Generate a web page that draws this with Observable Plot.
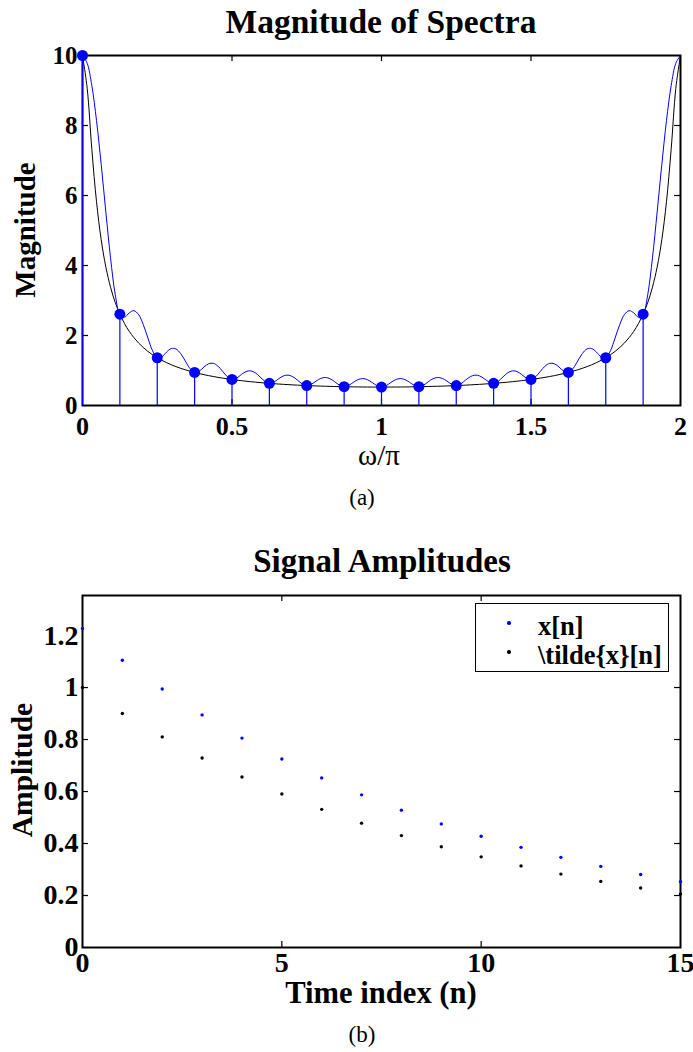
<!DOCTYPE html>
<html><head><meta charset="utf-8">
<script src="https://cdn.jsdelivr.net/npm/d3@7"></script>
<script src="https://cdn.jsdelivr.net/npm/@observablehq/plot@0.6"></script>
<style>
html,body{margin:0;padding:0;background:#fff;}
#root{position:relative;width:693px;height:1052px;font-family:"Liberation Serif","Times New Roman",serif;color:#000;overflow:hidden;}
.t{position:absolute;white-space:nowrap;line-height:1;}
.c{transform:translateX(-50%);}
.b{font-weight:bold;}
.rot{transform:translate(-50%,-50%) rotate(-90deg);}
#root svg{position:absolute;left:0;overflow:visible;}
#root svg text{font-family:"Liberation Serif","Times New Roman",serif;}
.lg{position:absolute;left:475px;top:603px;width:194px;height:69px;border:1.5px solid #000;background:#fff;box-sizing:border-box;}
.ld{position:absolute;width:3.4px;height:3.4px;border-radius:50%;}
</style></head><body><div id="root"></div>
<script>
// ---------- data: panel (a) ----------
const omegaGrid = d3.range(129).map(i => i / 64); // ω/π sample positions
const magBlack = [10, 9.0652, 7.3192, 5.8241, 4.7358, 3.9546, 3.3805, 2.9460, 2.6081,
  2.3388, 2.1198, 1.9386, 1.7864, 1.6570, 1.5457, 1.4490, 1.3644,
  1.2897, 1.2234, 1.1643, 1.1111, 1.0632, 1.0198, 0.9804, 0.9444,
  0.9115, 0.8813, 0.8535, 0.8279, 0.8043, 0.7824, 0.7621, 0.7433,
  0.7258, 0.7095, 0.6944, 0.6802, 0.6671, 0.6548, 0.6433, 0.6326,
  0.6226, 0.6133, 0.6046, 0.5966, 0.5890, 0.5820, 0.5756, 0.5695,
  0.5640, 0.5589, 0.5542, 0.5499, 0.5460, 0.5425, 0.5394, 0.5366,
  0.5342, 0.5321, 0.5303, 0.5289, 0.5277, 0.5270, 0.5265, 0.5263,
  0.5265, 0.5270, 0.5277, 0.5289, 0.5303, 0.5321, 0.5342, 0.5366,
  0.5394, 0.5425, 0.5460, 0.5499, 0.5542, 0.5589, 0.5640, 0.5695,
  0.5756, 0.5820, 0.5890, 0.5966, 0.6046, 0.6133, 0.6226, 0.6326,
  0.6433, 0.6548, 0.6671, 0.6802, 0.6944, 0.7095, 0.7258, 0.7433,
  0.7621, 0.7824, 0.8043, 0.8279, 0.8535, 0.8813, 0.9115, 0.9444,
  0.9804, 1.0198, 1.0632, 1.1111, 1.1643, 1.2234, 1.2897, 1.3644,
  1.4490, 1.5457, 1.6570, 1.7864, 1.9386, 2.1198, 2.3388, 2.6081,
  2.9460, 3.3805, 3.9546, 4.7358, 5.8241, 7.3192, 9.0652, 10];
const magBlue = [10, 9.7784, 9.1369, 8.1396, 6.8901, 5.5268, 4.2200, 3.1778, 2.6081,
  2.5228, 2.6463, 2.7093, 2.5990, 2.3158, 1.9296, 1.5630, 1.3644,
  1.3912, 1.5272, 1.6272, 1.6166, 1.4859, 1.2731, 1.0575, 0.9444,
  0.9832, 1.1002, 1.1929, 1.2046, 1.1241, 0.9767, 0.8221, 0.7433,
  0.7829, 0.8857, 0.9704, 0.9897, 0.9323, 0.8174, 0.6939, 0.6326,
  0.6716, 0.7656, 0.8450, 0.8679, 0.8232, 0.7266, 0.6208, 0.5695,
  0.6084, 0.6977, 0.7745, 0.8001, 0.7631, 0.6773, 0.5818, 0.5366,
  0.5762, 0.6642, 0.7411, 0.7694, 0.7376, 0.6578, 0.5679, 0.5263,
  0.5679, 0.6578, 0.7376, 0.7694, 0.7411, 0.6642, 0.5762, 0.5366,
  0.5818, 0.6773, 0.7631, 0.8001, 0.7745, 0.6977, 0.6084, 0.5695,
  0.6208, 0.7266, 0.8232, 0.8679, 0.8450, 0.7656, 0.6716, 0.6326,
  0.6939, 0.8174, 0.9323, 0.9897, 0.9704, 0.8857, 0.7829, 0.7433,
  0.8221, 0.9767, 1.1241, 1.2046, 1.1929, 1.1002, 0.9832, 0.9444,
  1.0575, 1.2731, 1.4859, 1.6166, 1.6272, 1.5272, 1.3912, 1.3644,
  1.5630, 1.9296, 2.3158, 2.5990, 2.7093, 2.6463, 2.5228, 2.6081,
  3.1778, 4.2200, 5.5268, 6.8901, 8.1396, 9.1369, 9.7784, 10];
const sampleOmega = d3.range(16).map(k => k / 8);
const sampleMag = [10, 2.6081, 1.3644, 0.9444, 0.7433, 0.6326, 0.5695, 0.5366,
  0.5263, 0.5366, 0.5695, 0.6326, 0.7433, 0.9444, 1.3644, 2.6081];
const topXTicks = [0, 0.5, 1, 1.5, 2];
const topYTicks = [0, 2, 4, 6, 8, 10];

// ---------- data: panel (b) ----------
const nIndex = d3.range(16);
const xSignal = [1.2275, 1.1047, 0.9943, 0.8948, 0.8054, 0.7248, 0.6523, 0.5871,
  0.5284, 0.4755, 0.4280, 0.3852, 0.3467, 0.3120, 0.2808, 0.2527];
const xTilde = [1.0, 0.9, 0.81, 0.729, 0.6561, 0.5905, 0.5314, 0.4783,
  0.4305, 0.3874, 0.3487, 0.3138, 0.2824, 0.2542, 0.2288, 0.2059];
const botXTicks = [0, 5, 10, 15];
const botYTicks = [0, 0.2, 0.4, 0.6, 0.8, 1, 1.2];
const legendLabels = ["x[n]", "\\tilde{x}[n]"];

const BLUE = "#0000ff";
const SERIF = "'Liberation Serif', 'Times New Roman', serif";
const fmt = d => String(+d.toFixed(3));
const root = document.getElementById("root");

function inwardTicks(xt, yt, pw, ph) {
  const xi = xt.slice(1, -1), yi = yt.slice(1, -1);
  return [
    Plot.ruleX(xi, {x: d => d, insetTop: ph - 6, stroke: "black", strokeWidth: 1.2}),
    Plot.ruleX(xi, {x: d => d, insetBottom: ph - 6, stroke: "black", strokeWidth: 1.2}),
    Plot.ruleY(yi, {y: d => d, insetRight: pw - 6, stroke: "black", strokeWidth: 1.2}),
    Plot.ruleY(yi, {y: d => d, insetLeft: pw - 6, stroke: "black", strokeWidth: 1.2})
  ];
}

// ---------- panel (a) ----------
const p1 = Plot.plot({
  width: 693, height: 480,
  marginTop: 55, marginBottom: 75, marginLeft: 82, marginRight: 13,
  x: {domain: [0, 2]},
  y: {domain: [0, 10]},
  style: {fontFamily: SERIF, fontWeight: "bold", background: "transparent", color: "black"},
  marks: [
    Plot.axisX({ticks: topXTicks, tickFormat: fmt, tickSize: 0, tickPadding: 11, fontSize: 26, fontWeight: "bold", label: null}),
    Plot.axisY({ticks: topYTicks, tickFormat: fmt, tickSize: 0, tickPadding: 5, fontSize: 25, fontWeight: "bold", label: null}),
    Plot.frame({stroke: "black", strokeWidth: 2}),
    ...inwardTicks(topXTicks, topYTicks, 598, 350),
    Plot.line(magBlack, {x: (d, i) => omegaGrid[i], y: d => d, stroke: "black", strokeWidth: 1, curve: "catmull-rom"}),
    Plot.line(magBlue, {x: (d, i) => omegaGrid[i], y: d => d, stroke: BLUE, strokeWidth: 1, curve: "catmull-rom"}),
    Plot.ruleX(sampleMag, {x: (d, i) => sampleOmega[i], y1: 0, y2: d => d, stroke: BLUE, strokeWidth: 1.2}),
    Plot.dot(sampleMag, {x: (d, i) => sampleOmega[i], y: d => d, r: 5.5, fill: BLUE})
  ]
});
p1.style.top = "0px";
root.appendChild(p1);

// ---------- panel (b) ----------
const p2 = Plot.plot({
  width: 693, height: 470,
  marginTop: 65, marginBottom: 53, marginLeft: 82, marginRight: 13,
  x: {domain: [0, 15]},
  y: {domain: [0, 1.354]},
  style: {fontFamily: SERIF, fontWeight: "bold", background: "transparent", color: "black"},
  marks: [
    Plot.axisX({ticks: botXTicks, tickFormat: fmt, tickSize: 0, tickPadding: 5, fontSize: 28, fontWeight: "bold", label: null}),
    Plot.axisY({ticks: botYTicks, tickFormat: fmt, tickSize: 0, tickPadding: 4, fontSize: 28, fontWeight: "bold", label: null}),
    Plot.frame({stroke: "black", strokeWidth: 2}),
    ...inwardTicks(botXTicks, botYTicks, 598, 352),
    Plot.dot(nIndex, {x: d => d, y: d => xSignal[d], r: 1.7, fill: BLUE}),
    Plot.dot(nIndex, {x: d => d, y: d => xTilde[d], r: 1.7, fill: "black"})
  ]
});
p2.style.top = "530px";
root.appendChild(p2);

// ---------- text ----------
function txt(s, cls, css) {
  const e = document.createElement("div");
  e.className = "t " + cls;
  e.textContent = s;
  Object.assign(e.style, css);
  root.appendChild(e);
  return e;
}
txt("Magnitude of Spectra", "c b", {left: "381px", top: "5px", fontSize: "33.5px"});
txt("Magnitude", "rot b", {left: "25px", top: "230px", fontSize: "29px"});
txt("ω/π", "c", {left: "379px", top: "441px", fontSize: "29px"});
txt("(a)", "c", {left: "362px", top: "486px", fontSize: "23px"});
txt("Signal Amplitudes", "c b", {left: "382px", top: "545px", fontSize: "33px"});
txt("Amplitude", "rot b", {left: "23px", top: "770px", fontSize: "29.5px"});
txt("Time index (n)", "c b", {left: "381px", top: "978px", fontSize: "30.6px"});
txt("(b)", "c", {left: "362px", top: "1023px", fontSize: "23px"});

// legend
const lg = document.createElement("div");
lg.className = "lg";
root.appendChild(lg);
const legendColors = [BLUE, "black"];
const legendTops = [613, 642];
legendLabels.forEach((lab, i) => {
  const d = document.createElement("div");
  d.className = "ld";
  d.style.background = legendColors[i];
  d.style.left = (509 - 1.7) + "px";
  d.style.top = (legendTops[i] + 10 - 1.7) + "px";
  root.appendChild(d);
  txt(lab, "b", {left: "538px", top: legendTops[i] + "px", fontSize: "26.5px"});
});
</script></body></html>
